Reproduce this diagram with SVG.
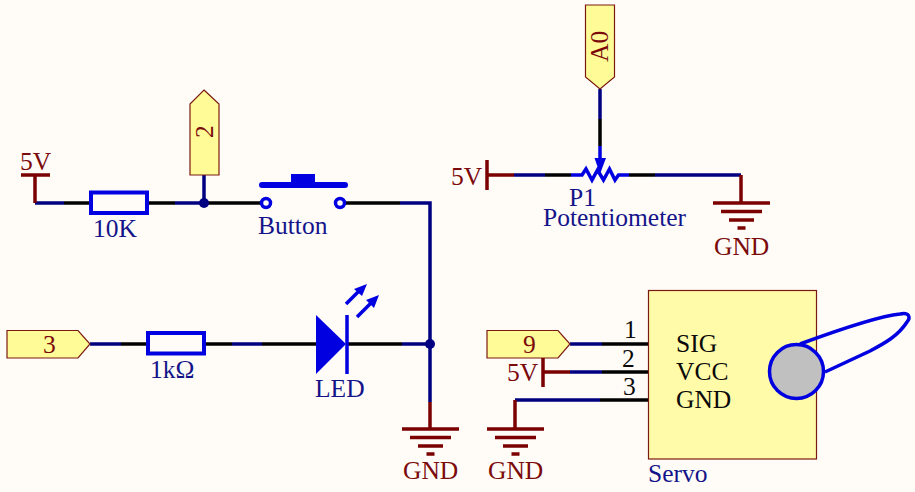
<svg xmlns="http://www.w3.org/2000/svg" width="915" height="492" viewBox="0 0 915 492">
<style>
text{font-family:"Liberation Serif","Times New Roman",serif;font-size:25.500px}
.pwr{fill:#7b0a0a}
.lbl{fill:#14148a}
.blk{fill:#0a0a0a}
.tag{fill:#fffb96;stroke:#7b1a10;stroke-width:1.200}
.m{stroke:#7b0000;stroke-width:3.500;fill:none}
.n{stroke:#000080;stroke-width:3.500;fill:none}
.k{stroke:#000;stroke-width:3.500;fill:none}
.b{stroke:#0000e0;stroke-width:3.500;fill:none}
.sym{stroke:#0000e0;stroke-width:4;fill:#fffcf8}
.fb{fill:#0000e0;stroke:none}
</style>
<defs>
<g id="gnd"><path class="m" d="M-28.500 0H28.500M-20.500 8.500H20.500M-12.500 17H12.500M-4 25H4"/></g>
</defs>
<rect width="915" height="492" fill="#fffcf8"/>
<g id="connectors">
<path class="n" d="M35 203H64M175 203H204M400 203H430V402M90 344H121M232 344H262M402 344H430M600 89V119M514 175H545M655 175H741M570 344H602M570 372H602M515 400H600M204 175V203"/>
<path class="k" d="M64 203H91M147 203H175M204 203H262M345 203H400M121 344H148M204 344H232M262 344H316M347 344H402M600 119V146M545 175H571M629 175H655M602 344H657M602 372H657M600 400H657"/>
<circle cx="204" cy="203" r="5" fill="#000080"/>
<circle cx="430" cy="344" r="5" fill="#000080"/>
</g>
<g id="vcc-left">
<path class="m" d="M21 175H50M35 175V203"/>
<text class="pwr" x="20" y="170">5V</text>
</g>
<g id="r-10k">
<rect class="sym" x="91" y="192.500" width="56" height="20.500"/>
<text class="lbl" x="93" y="237">10K</text>
</g>
<g id="port-2">
<polygon class="tag" points="204,90 219,104 219,175 190,175 190,104"/>
<text class="pwr" transform="translate(213,138) rotate(-90)">2</text>
</g>
<g id="button">
<path d="M262 185H345" stroke="#0000e0" stroke-width="6" stroke-linecap="round" fill="none"/>
<rect class="fb" x="291" y="174" width="24" height="10"/>
<circle cx="266" cy="203" r="4.500" fill="#fffcf8" stroke="#0000e0" stroke-width="3.500"/>
<circle cx="340" cy="203" r="4.500" fill="#fffcf8" stroke="#0000e0" stroke-width="3.500"/>
<text class="lbl" x="258" y="234">Button</text>
</g>
<g id="port-3">
<polygon class="tag" points="7,330.500 78,330.500 90,344 78,358 7,358"/>
<text class="pwr" x="43" y="353">3</text>
</g>
<g id="r-1k">
<rect class="sym" x="148" y="333" width="56" height="20.500"/>
<text class="lbl" x="150" y="378">1kΩ</text>
</g>
<g id="led">
<polygon class="fb" points="316,315 346,344 316,374"/>
<path class="b" d="M347 315V374M346 304L362 288M357 317L373 301"/>
<polygon class="fb" points="367,284 362,296 354,289"/>
<polygon class="fb" points="379,295 374,308 366,300"/>
<text class="lbl" x="315" y="397">LED</text>
</g>
<g id="gnd-1">
<path class="m" d="M430 402V429"/>
<use href="#gnd" x="430.500" y="429"/>
<text class="pwr" x="403" y="479">GND</text>
</g>
<g id="port-a0">
<polygon class="tag" points="585.500,5 614.500,5 614.500,77 600,89 585.500,77"/>
<text class="pwr" transform="translate(608,62) rotate(-90)">A0</text>
</g>
<g id="vcc-pot">
<path class="m" d="M487 160V190M487 175H514"/>
<text class="pwr" x="451" y="185">5V</text>
</g>
<g id="potentiometer">
<path class="b" d="M571 175H582L586 169L592 180L597.500 170L603.500 180L609.500 169L615 180L618.500 175H629M600 146V160"/>
<polygon class="fb" points="594.500,158 606,158 600,174"/>
<text class="lbl" x="569" y="206">P1</text>
<text class="lbl" x="543" y="226">Potentiometer</text>
</g>
<g id="gnd-2">
<path class="m" d="M741 175V203"/>
<use href="#gnd" x="741.500" y="203"/>
<text class="pwr" x="714" y="255">GND</text>
</g>
<g id="port-9">
<polygon class="tag" points="487,330.500 558,330.500 570,344 558,358 487,358"/>
<text class="pwr" x="523" y="353">9</text>
</g>
<g id="vcc-servo">
<path class="m" d="M543 358V387M543 372H570"/>
<text class="pwr" x="507" y="381">5V</text>
</g>
<g id="gnd-3">
<path class="m" d="M515 400V429"/>
<use href="#gnd" x="515.500" y="429"/>
<text class="pwr" x="488" y="479">GND</text>
</g>
<g id="servo">
<rect x="648.500" y="290.500" width="168" height="168.500" fill="#fffba8" stroke="#7b1a10" stroke-width="1.200"/>
<path class="b" d="M800 344C830 333 880 316 900 314C909 312 911 317 907 322C898 336 885 343 870 351C855 358 840 365 825 372"/>
<circle cx="796.500" cy="371.500" r="27" fill="#c0c0c0" stroke="#0000e0" stroke-width="3.500"/>
<text class="blk" x="624" y="338">1</text>
<text class="blk" x="622" y="367">2</text>
<text class="blk" x="623" y="395">3</text>
<text class="blk" x="676" y="352">SIG</text>
<text class="blk" x="676" y="380">VCC</text>
<text class="blk" x="676" y="408">GND</text>
<text class="lbl" x="648" y="482">Servo</text>
</g>
</svg>
